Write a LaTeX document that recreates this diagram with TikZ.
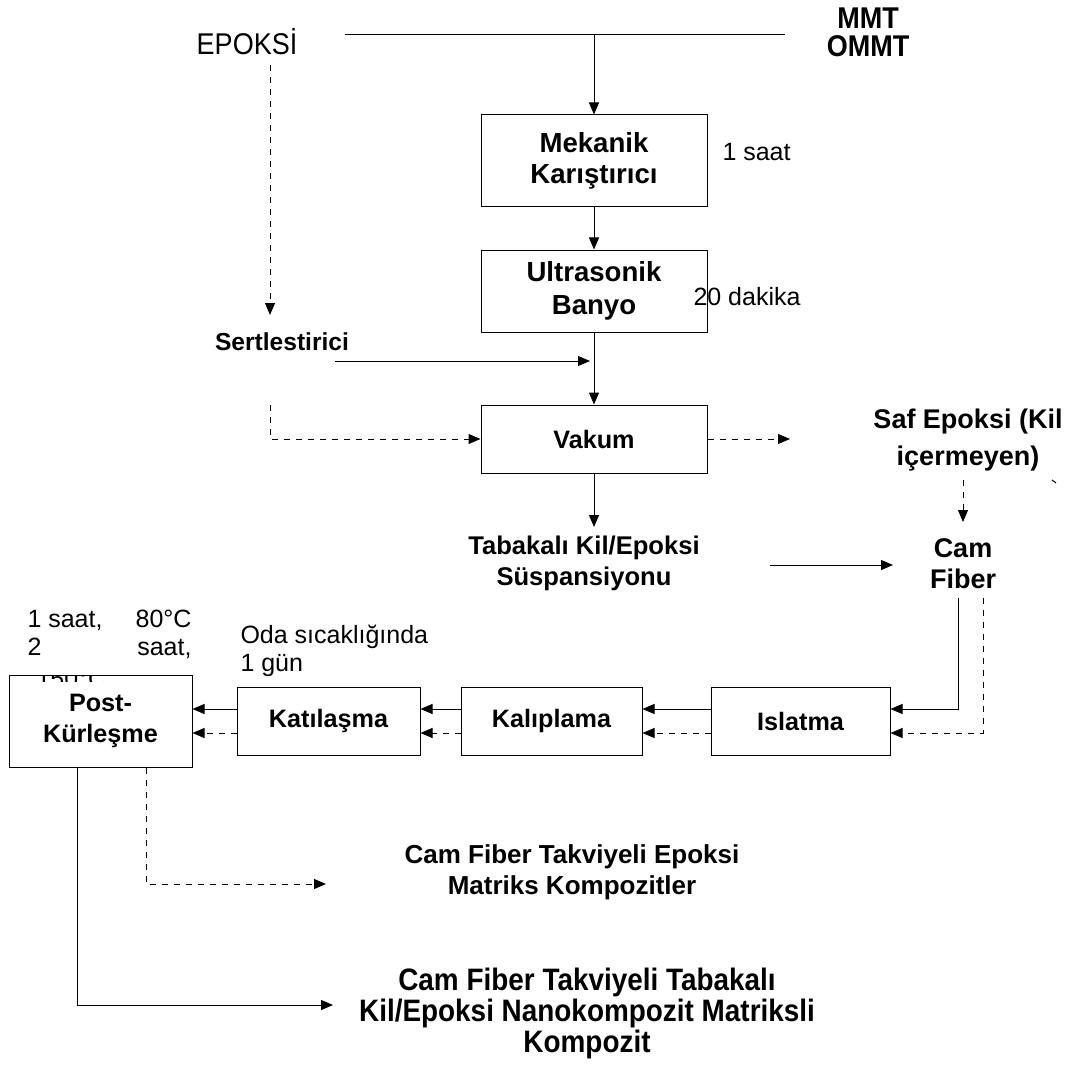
\documentclass[tikz,border=0pt]{standalone}
\usepackage{fontspec}
\setmainfont{Liberation Sans}
\usetikzlibrary{arrows.meta}
\begin{document}
\begin{tikzpicture}[x=0.5pt,y=-0.5pt,
  line width=0.5pt,
  proc/.style={draw, fill=white, inner sep=0pt, align=center,
    font=\bfseries\fontsize{12.6}{15.5}\selectfont},
  bigproc/.style={proc, font=\bfseries\fontsize{13.8}{15.8}\selectfont},
  lbl/.style={inner sep=0pt, align=center,
    font=\bfseries\fontsize{12.8}{15.5}\selectfont},
  narrow/.style={inner sep=0pt, align=center, xscale=0.9},
  note/.style={inner sep=0pt, font=\fontsize{12.5}{14}\selectfont},
  flow/.style={-{Triangle[length=6pt,width=5pt]}},
  dflow/.style={flow, dash pattern=on 3pt off 3pt},
]
\useasboundingbox (0,0) rectangle (1070,1075);

% inputs
\node[narrow, font=\fontsize{15}{15}\selectfont] (ep) at (247,42) {EPOKSİ};
\node[narrow, font=\bfseries\fontsize{15}{14}\selectfont] (mmt) at (868,32) {MMT\\OMMT};
\coordinate (tl) at (345,35);
\coordinate (tr) at (785,35);
\coordinate (tj) at (592,35);
\draw (tl) -- (tr);

% main column
\node[bigproc, minimum width=113pt, minimum height=46pt] (mek) at (594,161) {Mekanik\\Karıştırıcı};
\node[bigproc, minimum width=113pt, minimum height=41pt, font=\bfseries\fontsize{13.8}{16.5}\selectfont] (ult) at (594,291) {Ultrasonik\\Banyo};
\node[proc, minimum width=113pt, minimum height=34pt] (vak) at (594,439) {Vakum};
\node[note, anchor=base west] (t1) at (722,161) {1 saat};
\node[note, anchor=base west] (t2) at (693,305) {20 dakika};

\draw[flow] (tj -| mek.north) -- (mek.north);
\draw[flow] (mek.south) -- (ult.north);
\draw[flow] (ult.south) -- (vak.north);

% hardener
\node[lbl, font=\bfseries\fontsize{12.3}{15}\selectfont] (sert) at (282,342) {Sertlestirici};
\coordinate (s1) at (335,361);
\coordinate (s2) at (590,361);
\draw[flow] (s1) -- (s2);

% neat epoxy branch
\coordinate (e1) at (270,65);
\coordinate (e2) at (270,315);
\draw[dflow] (e1) -- (e2);
\coordinate (d1) at (270,405);
\draw[dflow] (d1) |- (vak.west);
\coordinate (vr) at (790,439);
\draw[dflow] (vak.east) -- (vr);

\node[lbl, font=\bfseries\fontsize{13.5}{18.5}\selectfont] (saf) at (968,440) {Saf Epoksi (Kil\\içermeyen)};
\draw (1052,480) -- (1056,483);
\coordinate (sf1) at (963,480);
\coordinate (sf2) at (963,522);
\draw[dflow] (sf1) -- (sf2);

\node[lbl, font=\bfseries\fontsize{13.5}{15.5}\selectfont] (cam) at (963,564) {Cam\\Fiber};
\node[lbl] (tab) at (584,563) {Tabakalı Kil/Epoksi\\Süspansiyonu};
\coordinate (v2) at (594,527);
\draw[flow] (vak.south) -- (v2);
\coordinate (ta) at (770,565);
\coordinate (tb) at (893,565);
\draw[flow] (ta) -- (tb);

% processing row
\node[proc, minimum width=89.5pt, minimum height=34pt] (isl) at (800.5,721) {Islatma};
\node[proc, minimum width=90.5pt, minimum height=34pt] (kal) at (551.5,721) {Kalıplama};
\node[proc, minimum width=91.5pt, minimum height=34pt] (kat) at (328.5,721) {Katılaşma};

\node[note, anchor=base west] (c1a) at (27,627) {1 saat,};
\node[note, anchor=base east] (c1b) at (192,627) {80°C};
\node[note, anchor=base west] (c2a) at (27,655) {2};
\node[note, anchor=base east] (c2b) at (192,655) {saat,};
\node[proc, minimum width=91.5pt, minimum height=46pt] (post) at (100.5,721) {Post-\\Kürleşme};
\begin{scope}
  \clip (20,675.5) rectangle (200,681);
  \node[note, anchor=base west] (c3) at (36,687) {150°C};
\end{scope}

\node[note, anchor=base west] (oda) at (240,643) {Oda\ sıcaklığında};
\node[note, anchor=base west] (gun) at (240,671) {1 gün};

\coordinate (ys) at (0,709);
\coordinate (yd) at (0,733);
\coordinate (cs1) at (958,598);
\coordinate (cs2) at (958,709);
\draw[flow] (cs1) -- (cs2) -- (cs2 -| isl.east);
\coordinate (cd1) at (983,598);
\coordinate (cd2) at (983,733);
\draw[dflow] (cd1) -- (cd2) -- (cd2 -| isl.east);

\draw[flow] (isl.west |- ys) -- (kal.east |- ys);
\draw[dflow] (isl.west |- yd) -- (kal.east |- yd);
\draw[flow] (kal.west |- ys) -- (kat.east |- ys);
\draw[dflow] (kal.west |- yd) -- (kat.east |- yd);
\draw[flow] (kat.west |- ys) -- (post.east |- ys);
\draw[dflow] (kat.west |- yd) -- (post.east |- yd);

% products
\node[lbl, font=\bfseries\fontsize{13}{15.5}\selectfont] (r1) at (572,872) {Cam Fiber Takviyeli Epoksi\\Matriks Kompozitler};
\node[narrow, font=\bfseries\fontsize{15.5}{15.5}\selectfont] (r2) at (587,1013) {Cam Fiber Takviyeli Tabakalı\\Kil/Epoksi Nanokompozit Matriksli\\Kompozit};

\coordinate (pd1) at (146,884);
\coordinate (pd2) at (326,884);
\draw[dflow] (post.south -| pd1) -- (pd1) -- (pd2);
\coordinate (ps1) at (77,1005);
\coordinate (ps2) at (333,1005);
\draw[flow] (post.south -| ps1) -- (ps1) -- (ps2);
\end{tikzpicture}
\end{document}
